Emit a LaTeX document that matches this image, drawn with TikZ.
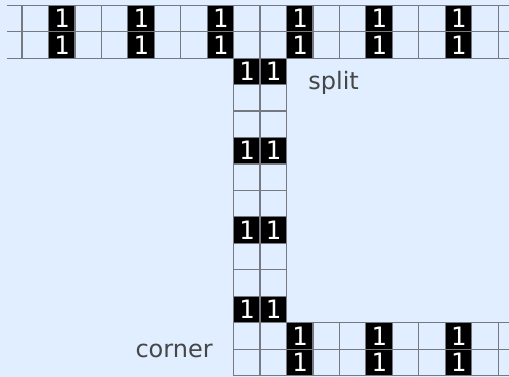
\documentclass[tikz,border=0pt]{standalone}
\usepackage{fontspec}
\setsansfont{DejaVu Sans}
\setmonofont{DejaVu Sans Mono}
\usetikzlibrary{positioning}
\definecolor{gridBack}{RGB}{224,238,255}
\definecolor{gridLine}{RGB}{118,122,128}
\definecolor{labelGray}{RGB}{70,70,70}

\begin{document}
\begin{tikzpicture}[x=19.84pt, y=-19.84pt,
  cell/.style={draw=gridLine, line width=0.9pt, minimum size=19.84pt,
               inner sep=0pt, outer sep=0pt},
  one/.style={cell, fill=black, text=white,
              font=\ttfamily\fontsize{19}{19}\selectfont},
  tag/.style={font=\sffamily\fontsize{18}{18}\selectfont, text=labelGray,
              inner sep=0pt}
]
  \fill[gridBack] (-1.332,-0.7) rectangle (17.912,13.553);
  \useasboundingbox (-1.332,-0.7) rectangle (17.912,13.553);
  \clip (-1.332,-0.7) rectangle (17.912,13.553);

  % top band
  \foreach \r in {0,1}
    \foreach \k in {0,...,18} {
      \pgfmathtruncatemacro\m{mod(\k,3)}
      \ifnum\m=1 \node[one] (c-\r-\k) at (\k,\r) {1};
      \else \node[cell] (c-\r-\k) at (\k,\r) {}; \fi
    }
  \coordinate (stub-0) at (-1.067,-0.5);
  \coordinate (stub-1) at (-1.067,0.5);
  \coordinate (stub-2) at (-1.067,1.5);
  \draw[gridLine, line width=0.9pt] (stub-0) -- (c-0-0.north west);
  \draw[gridLine, line width=0.9pt] (stub-1) -- (c-0-0.south west);
  \draw[gridLine, line width=0.9pt] (stub-2) -- (c-1-0.south west);

  % shaft
  \foreach \r in {2,...,11}
    \foreach \k in {8,9} {
      \pgfmathtruncatemacro\m{mod(\r,3)}
      \ifnum\m=2 \node[one] (c-\r-\k) at (\k,\r) {1};
      \else \node[cell] (c-\r-\k) at (\k,\r) {}; \fi
    }

  % bottom band
  \foreach \r in {12,13}
    \foreach \k in {8,...,18} {
      \pgfmathtruncatemacro\m{mod(\k,3)}
      \ifnum\m=1 \node[one] (c-\r-\k) at (\k,\r) {1};
      \else \node[cell] (c-\r-\k) at (\k,\r) {}; \fi
    }

  \node[tag, anchor=base west] (split)
    at ([xshift=16.2pt, yshift=-3.4pt]c-2-9.south east) {split};
  \node[tag, anchor=base east] (corner)
    at ([xshift=-15.5pt, yshift=-6pt]c-12-8.south west) {corner};
\end{tikzpicture}
\end{document}
